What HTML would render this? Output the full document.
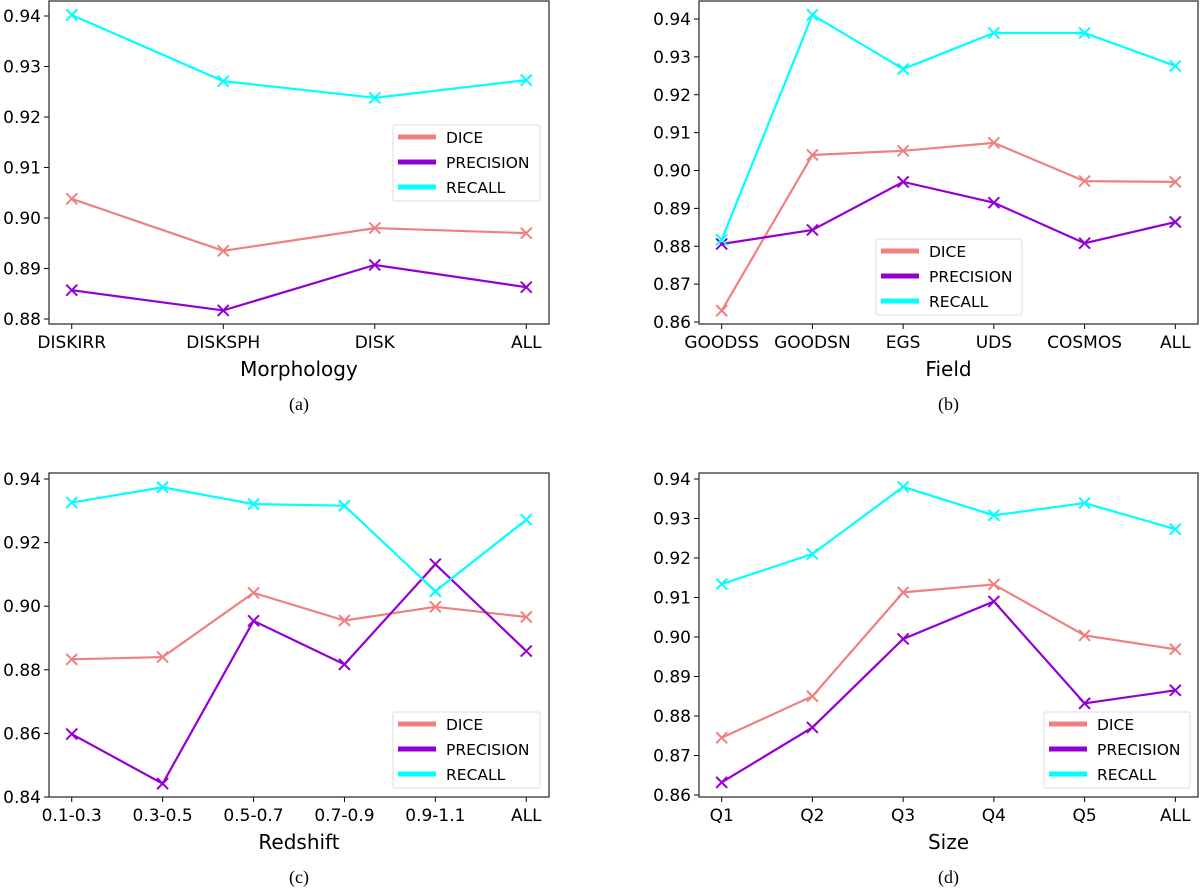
<!DOCTYPE html>
<html><head><meta charset="utf-8"><style>
body{margin:0;background:#fff;}
svg{display:block;font-family:"DejaVu Sans","Liberation Sans",sans-serif;}
</style></head><body>
<svg id="fig" width="1200" height="888" viewBox="0 0 1200 888"></svg>
<script>
const seriesNames = ["DICE","PRECISION","RECALL"];
const seriesColors = ["#f08080","#9400d3","#00ffff"];
// panel a
const catsA = ["DISKIRR","DISKSPH","DISK","ALL"];
const diceA = [0.9038,0.8935,0.8980,0.8970];
const precA = [0.8857,0.8817,0.8907,0.8863];
const recA  = [0.9402,0.9271,0.9238,0.9273];
const ticksA = [0.88,0.89,0.90,0.91,0.92,0.93,0.94];
// panel b
const catsB = ["GOODSS","GOODSN","EGS","UDS","COSMOS","ALL"];
const diceB = [0.8630,0.9041,0.9052,0.9073,0.8972,0.8970];
const precB = [0.8806,0.8843,0.8970,0.8915,0.8808,0.8864];
const recB  = [0.8817,0.9411,0.9268,0.9363,0.9363,0.9276];
const ticksB = [0.86,0.87,0.88,0.89,0.90,0.91,0.92,0.93,0.94];
// panel c
const catsC = ["0.1-0.3","0.3-0.5","0.5-0.7","0.7-0.9","0.9-1.1","ALL"];
const diceC = [0.8833,0.8840,0.9042,0.8955,0.8998,0.8966];
const precC = [0.8598,0.8442,0.8954,0.8817,0.9132,0.8859];
const recC  = [0.9326,0.9374,0.9321,0.9316,0.9047,0.9272];
const ticksC = [0.84,0.86,0.88,0.90,0.92,0.94];
// panel d
const catsD = ["Q1","Q2","Q3","Q4","Q5","ALL"];
const diceD = [0.8745,0.8850,0.9113,0.9133,0.9004,0.8969];
const precD = [0.8632,0.8771,0.8995,0.9090,0.8832,0.8865];
const recD  = [0.9134,0.9210,0.9380,0.9308,0.9339,0.9273];
const ticksD = [0.86,0.87,0.88,0.89,0.90,0.91,0.92,0.93,0.94];

const NS="http://www.w3.org/2000/svg";
const fig=document.getElementById('fig');
function mk(tag,attrs,parent){const e=document.createElementNS(NS,tag);for(const k in attrs)e.setAttribute(k,attrs[k]);(parent||fig).appendChild(e);return e;}

function panel(cfg){
  const g=mk('g',{});
  
  
  const L=cfg.L,R=cfg.R,T=cfg.T,B=cfg.B;
  const n=cfg.cats.length;
  const span=R-L, m=span*0.05/1.1, step=(span-2*m)/(n-1);
  const xf=i=>L+m+i*step;
  const yf=v=>cfg.yHi+(cfg.vHi-v)/(cfg.vHi-cfg.vLo)*(cfg.yLo-cfg.yHi);
  // ticks y
  cfg.ticks.forEach(t=>{
    const y=yf(t);
    const tl=mk('line',{x1:L-5,x2:L,y1:y,y2:y,stroke:'#000','stroke-width':1},g);
    
    
    const tx=mk('text',{x:L-8,y:y+6,'text-anchor':'end','font-size':17,fill:'#000'},g);
    tx.textContent=t.toFixed(2);
    
    
  });
  cfg.cats.forEach((c,i)=>{
    const x=xf(i);
    mk('line',{x1:x,x2:x,y1:B,y2:B+5,stroke:'#000','stroke-width':1},g);
    const tx=mk('text',{x:x,y:B+24,'text-anchor':'middle','font-size':17,fill:'#000'},g);
    tx.textContent=c;
    
    
  });
  const series=[cfg.dice,cfg.prec,cfg.rec];
  series.forEach((vals,si)=>{
    const pts=vals.map((v,i)=>xf(i)+','+yf(v)).join(' ');
    const pl=mk('polyline',{points:pts,fill:'none',stroke:seriesColors[si],'stroke-width':2.2},g);
    
    
    vals.forEach((v,i)=>{
      const x=xf(i),y=yf(v),s=5.5;
      const p=mk('path',{d:`M${x-s},${y-s}L${x+s},${y+s}M${x-s},${y+s}L${x+s},${y-s}`,stroke:seriesColors[si],'stroke-width':2,fill:'none'},g);
      
      
    });
  });
  const fr=mk('rect',{x:L,y:T,width:R-L,height:B-T,fill:'none',stroke:'#333','stroke-width':1.3},g);
  
  
  const at=mk('text',{x:(L+R)/2,y:B+52,'text-anchor':'middle','font-size':20,fill:'#000'},g);
  at.textContent=cfg.xlabel;
  
  
  const cap=mk('text',{x:(L+R)/2,y:B+61+25,'text-anchor':'middle','font-size':18,fill:'#000','font-family':'Liberation Serif, serif'},g);
  cap.textContent=cfg.caption;
  
  
  // legend
  const lg=mk('g',{},g);
  
  
  mk('rect',{x:cfg.lx,y:cfg.ly,width:cfg.lw,height:76,fill:'#fff',stroke:'#ddd','stroke-width':1,rx:2},lg);
  seriesNames.forEach((nm,si)=>{
    const yy=cfg.ly+12+si*25;
    mk('line',{x1:cfg.lx+5,x2:cfg.lx+43,y1:yy,y2:yy,stroke:seriesColors[si],'stroke-width':5},lg);
    const t=mk('text',{x:cfg.lx+53,y:yy+6,'font-size':15.5,fill:'#000'},lg);
    t.textContent=nm;
    
    
  });
}
panel({name:'panel-morphology',L:49,R:549,T:1,B:324,yHi:16,vHi:0.94,yLo:319,vLo:0.88,ticks:ticksA,cats:catsA,dice:diceA,prec:precA,rec:recA,xlabel:'Morphology',caption:'(a)',lx:393,ly:125,lw:147});
panel({name:'panel-field',L:699,R:1198,T:1,B:324,yHi:19,vHi:0.94,yLo:322,vLo:0.86,ticks:ticksB,cats:catsB,dice:diceB,prec:precB,rec:recB,xlabel:'Field',caption:'(b)',lx:876,ly:239,lw:146});
panel({name:'panel-redshift',L:49,R:549,T:473,B:797,yHi:479,vHi:0.94,yLo:797,vLo:0.84,ticks:ticksC,cats:catsC,dice:diceC,prec:precC,rec:recC,xlabel:'Redshift',caption:'(c)',lx:393,ly:712,lw:147});
panel({name:'panel-size',L:699,R:1198,T:473,B:797,yHi:479,vHi:0.94,yLo:795,vLo:0.86,ticks:ticksD,cats:catsD,dice:diceD,prec:precD,rec:recD,xlabel:'Size',caption:'(d)',lx:1044,ly:712,lw:146});
</script>
</body></html>
